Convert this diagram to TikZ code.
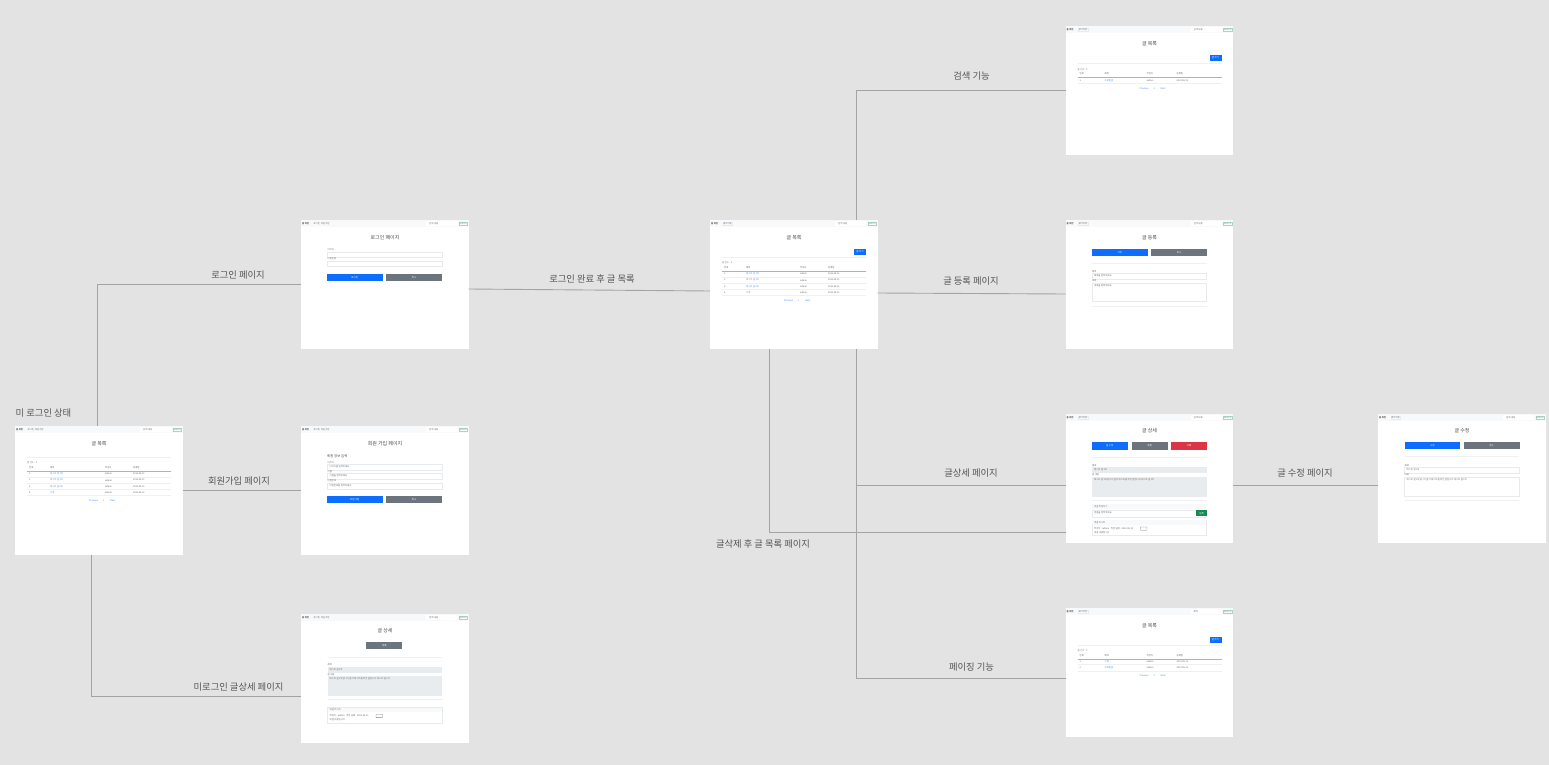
\documentclass[tikz,border=0pt]{standalone}
\usepackage{fontspec}
\setmainfont{Noto Sans CJK KR}
\definecolor{canvasbg}{HTML}{E3E3E3}
\definecolor{linkgray}{HTML}{A4A4A4}
\definecolor{labelgray}{HTML}{555555}
\definecolor{navbg}{HTML}{F8F9FA}
\definecolor{btnblue}{HTML}{0D6EFD}
\definecolor{btngray}{HTML}{6C757D}
\definecolor{btnred}{HTML}{DC3545}
\definecolor{btngreen}{HTML}{198754}
\definecolor{readbg}{HTML}{E9ECEF}
\definecolor{edgegray}{HTML}{E8EBEE}
\tikzset{
	webpage/.style={fill=white, minimum width=167.5pt, minimum height=129pt, inner sep=0pt, outer sep=0pt, anchor=north west},
	link/.style={draw=linkgray, line width=0.9pt},
	flowlabel/.style={font=\fontsize{9.3}{11}\selectfont, text=labelgray, inner sep=0pt},
	mini/.style={font=\fontsize{2.3}{3}\selectfont, text=black!60, inner sep=0pt, anchor=west},
	minilink/.style={mini, text=btnblue!75},
	btntext/.style={font=\fontsize{2.4}{3}\selectfont, text=white, inner sep=0pt},
	headtext/.style={font=\fontsize{5}{6}\selectfont, text=black!70, inner sep=0pt},
	navtext/.style={mini},
	navbox/.style={mini, draw=edgegray, line width=0.25pt, inner xsep=0.7pt, inner ysep=0.6pt},
	inputbox/.style={draw=edgegray, fill=white, line width=0.25pt},
	readbox/.style={fill=readbg},
	seprule/.style={draw=black!6, line width=0.3pt},
}
\newcommand{\webpagebox}[4]{
	\node[webpage] (#1) at (#2,#3) {};
	\begin{scope}[shift={(#1.north west)}]
		\def\pg{#1}
		#4
	\end{scope}
}
\newcommand{\lbl}[5][mini]{\node[#1] (\pg-#2) at ({#3},{#4}) {#5};}
\newcommand{\navbar}[3]{
	\fill[navbg] (0,0) rectangle (167.5,6.8);
	\lbl{home}{1}{3.4}{\textbf{홈 화면}}
	\lbl[#1]{menu}{12.5}{3.4}{#2}
	\draw[inputbox, draw=none] (125,1) rectangle (156,6);
	\lbl{find}{128}{3.4}{#3}
	\lbl[navbox, text=btngreen!60, draw=btngreen!35]{go}{157.5}{3.4}{Search}
}
\newcommand{\pagetitle}[2][17.5]{\node[headtext] (\pg-title) at (84,#1) {#2};}
\newcommand{\pagebtn}[7]{
	\fill[#6] (#2,#4) rectangle node[btntext] (\pg-#1) {#7} (#3,#5);
}
\newcommand{\formbox}[5]{
	\path[#1] (26.5,#3) rectangle (141,#4);
	\lbl{#2}{28.5}{#3+2.8}{#5}
}
\newcommand{\sepline}[3]{\draw[seprule] (#1,#3) -- (#2,#3);}
\newcommand{\newpostbtn}{\pagebtn{new}{144}{156}{29}{34.7}{btnblue}{글 쓰기}}
\newcommand{\boardtable}[6]{
	\sepline{12}{156}{#1-10.5}
	\lbl{total}{12}{#1-4.7}{총 건수 : 1}
	\lbl{no}{14}{#1}{번호}
	\lbl{subj}{#2}{#1}{제목}
	\lbl{author}{#3}{#1}{작성자}
	\lbl{date}{#4}{#1}{등록일}
	\draw[draw=black!30, line width=0.35pt] (12,#1+3.5) -- (156,#1+3.5);
	\foreach \subj [count=\i] in {#6} {
		\lbl{no\i}{14}{#1+6.2*\i}{\i}
		\lbl[minilink]{subj\i}{#2}{#1+6.2*\i}{\subj}
		\lbl{author\i}{#3}{#1+6.2*\i}{admin}
		\lbl{date\i}{#4}{#1+6.2*\i}{2022.08.11}
		\draw[seprule] (12,#1+6.2*\i+3) -- (156,#1+6.2*\i+3);
	}
	\lbl[minilink]{prev}{74}{#5}{Previous}
	\lbl[minilink]{one}{88}{#5}{1}
	\lbl[minilink]{next}{95}{#5}{Next}
}
\newcommand{\replycard}[1]{
	\draw[inputbox] (26.5,#1) rectangle (141,#1+15.5);
	\fill[navbg] (26.8,#1+0.2) rectangle (140.8,#1+5);
	\lbl{reply}{28.5}{#1+2.6}{댓글 리스트}
	\lbl{replyinfo}{28.5}{#1+8.6}{작성자 : admin \ \ 작성 날짜 : 2022.08.11}
	\draw[draw=black!50, line width=0.3pt, rounded corners=0.4pt] (75,#1+7) rectangle (81.5,#1+10.3);
	\lbl{replytext}{28.5}{#1+12.4}{댓글 내용입니다}
}
\begin{document}
\begin{tikzpicture}[x=1pt, y=-1pt]

	\fill[canvasbg] (0,0) rectangle (1549,765);

	\webpagebox{nolog}{15}{426}{
		\navbar{navtext}{로그인 \ 회원가입}{검색 내용}
		\pagetitle{글 목록}
		\boardtable{41.7}{35}{90}{118}{74.3}{테스트 글 1차,테스트 글 2차,테스트 글 3차,수정}
	}
	\webpagebox{login}{301}{220}{
		\navbar{navtext}{로그인 \ 회원가입}{검색 내용}
		\pagetitle{로그인 페이지}
		\lbl{idlabel}{26.5}{29.7}{아이디}
		\formbox{inputbox}{idbox}{32}{37.3}{}
		\lbl{pwlabel}{26.5}{38.7}{비밀번호}
		\formbox{inputbox}{pwbox}{41}{46.3}{}
		\pagebtn{ok}{26}{81.5}{54.3}{61}{btnblue}{로그인}
		\pagebtn{cancel}{85}{141}{54.3}{61}{btngray}{취소}
	}
	\webpagebox{join}{301}{426}{
		\navbar{navtext}{로그인 \ 회원가입}{검색 내용}
		\pagetitle{회원 가입 페이지}
		\node[headtext, anchor=west, font=\fontsize{3.4}{4}\selectfont] (join-head) at (26,30.3) {회원 정보 입력};
		\lbl{idlabel}{26.5}{36.7}{아이디}
		\formbox{inputbox}{idbox}{38.3}{44.3}{아이디를 입력하세요}
		\lbl{namelabel}{26.5}{45.3}{이름}
		\formbox{inputbox}{namebox}{47.3}{53.3}{이름을 입력하세요}
		\lbl{pwlabel}{26.5}{54.7}{비밀번호}
		\formbox{inputbox}{pwbox}{56.7}{62.7}{비밀번호를 입력하세요}
		\pagebtn{ok}{26}{81.5}{70}{76.7}{btnblue}{회원 가입}
		\pagebtn{cancel}{85}{141}{70}{76.7}{btngray}{취소}
	}
	\webpagebox{guest}{301}{614}{
		\navbar{navtext}{로그인 \ 회원가입}{검색 내용}
		\pagetitle[17]{글 상세}
		\pagebtn{back}{65.3}{101.3}{28}{35.3}{btngray}{목록}
		\sepline{26.5}{141}{42.7}
		\lbl{subjlabel}{26.5}{50.7}{제목}
		\formbox{readbox}{subjbox}{52.7}{58.7}{테스트 글 1차}
		\lbl{bodylabel}{26.5}{60.3}{글 내용}
		\formbox{readbox}{bodybox}{62.3}{82}{테스트 글 1차입니다 글자 테스트를 위한 글입니다 테스트 글 1차}
		\sepline{26.5}{141}{85}
		\replycard{93.3}
	}
	\webpagebox{list}{710}{220}{
		\navbar{navbox}{로그아웃}{검색 내용}
		\pagetitle{글 목록}
		\newpostbtn
		\boardtable{47.7}{36}{90}{118}{81}{테스트 글 1차,테스트 글 2차,테스트 글 3차,수정}
	}
	\webpagebox{search}{1065.5}{26}{
		\navbar{navbox}{로그아웃}{검색 내용}
		\pagetitle{글 목록}
		\newpostbtn
		\boardtable{48}{39}{81}{111}{63}{프로필글}
	}
	\webpagebox{write}{1065.5}{220}{
		\navbar{navbox}{로그아웃}{검색 내용}
		\pagetitle{글 등록}
		\pagebtn{ok}{26.5}{82}{28.7}{35.7}{btnblue}{저장}
		\pagebtn{cancel}{85.5}{141.5}{28.7}{35.7}{btngray}{취소}
		\sepline{26.5}{141}{43.3}
		\lbl{subjlabel}{26.5}{51.7}{제목}
		\formbox{inputbox}{subjbox}{53.3}{59.3}{제목을 입력하세요}
		\lbl{bodylabel}{26.5}{60.7}{내용}
		\formbox{inputbox}{bodybox}{63}{81.3}{내용을 입력하세요}
		\sepline{26.5}{141}{86}
	}
	\webpagebox{detail}{1065.5}{414}{
		\navbar{navbox}{로그아웃}{검색 내용}
		\pagetitle[17]{글 상세}
		\pagebtn{edit}{26.5}{62}{28.3}{35.7}{btnblue}{글 수정}
		\pagebtn{back}{66}{102}{28.3}{35.7}{btngray}{목록}
		\pagebtn{del}{105.5}{141}{28.3}{35.7}{btnred}{삭제}
		\sepline{26.5}{141}{43.3}
		\lbl{subjlabel}{26.5}{51.3}{제목}
		\formbox{readbox}{subjbox}{53.3}{59.3}{테스트 글 1차}
		\lbl{bodylabel}{26.5}{61}{글 내용}
		\formbox{readbox}{bodybox}{63}{82.7}{테스트 글 1차입니다 글자 테스트를 위한 글입니다 테스트 글 1차}
		\sepline{26.5}{141}{86}
		\fill[navbg] (26.5,90.3) rectangle (141,95.3);
		\lbl{writereply}{28.5}{92.8}{댓글 작성하기}
		\formbox{inputbox}{replybox}{96}{102.7}{댓글을 입력하세요}
		\pagebtn{post}{130.5}{141.5}{96}{102.3}{btngreen}{등록}
		\replycard{106}
	}
	\webpagebox{paging}{1065.5}{608}{
		\navbar{navbox}{로그아웃}{제목}
		\pagetitle{글 목록}
		\newpostbtn
		\boardtable{47.3}{39}{81}{111}{68}{수정,프로필글}
	}
	\webpagebox{edit}{1378}{414}{
		\navbar{navbox}{로그아웃}{검색 내용}
		\pagetitle[17]{글 수정}
		\pagebtn{ok}{26.5}{82}{28.3}{35.3}{btnblue}{수정}
		\pagebtn{cancel}{85.5}{141.5}{28.3}{35.3}{btngray}{취소}
		\sepline{26.5}{141}{42}
		\lbl{subjlabel}{26.5}{51.3}{제목}
		\formbox{inputbox}{subjbox}{53.3}{59.3}{테스트 글 1차}
		\lbl{bodylabel}{26.5}{61}{내용}
		\formbox{inputbox}{bodybox}{63.3}{82}{테스트 글 1차입니다 글자 테스트를 위한 글입니다 테스트 글 1차}
		\sepline{26.5}{141}{86}
	}

	\draw[link] ([xshift=-1pt]nolog.north) |- (login.west);
	\draw[link] (nolog.east) -- (join.west);
	\draw[link] ([xshift=-7.5pt]nolog.south) |- ([yshift=-17.5pt]guest.west);
	\draw[link] ([yshift=-4.5pt]login.east) -- ([yshift=-6.5pt]list.west);
	\draw[link] ([xshift=62.5pt]list.north) |- (search.west);
	\draw[link] ([yshift=-8.5pt]list.east) -- ([yshift=-9.5pt]write.west);
	\draw[link] ([xshift=62.5pt]list.south) |- ([yshift=-5.5pt]paging.west);
	\draw[link] ([xshift=62.5pt,yshift=-136pt]list.south) -- ([yshift=-6.5pt]detail.west);
	\draw[link] ([xshift=-24.5pt]list.south) |- ([yshift=-53.5pt]detail.west);
	\draw[link] ([yshift=-6.5pt]detail.east) -- ([yshift=-6.5pt]edit.west);

	\node[flowlabel] (lbNolog) at (43.5,412.8) {미 로그인 상태};
	\node[flowlabel] (lbLogin) at (238,274.8) {로그인 페이지};
	\node[flowlabel] (lbJoin) at (239,480.8) {회원가입 페이지};
	\node[flowlabel] (lbGuest) at (238.5,686.8) {미로그인 글상세 페이지};
	\node[flowlabel] (lbDone) at (592,278.8) {로그인 완료 후 글 목록};
	\node[flowlabel] (lbSearch) at (971.5,75.8) {검색 기능};
	\node[flowlabel] (lbWrite) at (971,280.8) {글 등록 페이지};
	\node[flowlabel] (lbDetail) at (971,472.8) {글상세 페이지};
	\node[flowlabel] (lbDelete) at (763,543.8) {글삭제 후 글 목록 페이지};
	\node[flowlabel] (lbPaging) at (971.5,666.8) {페이징 기능};
	\node[flowlabel] (lbEdit) at (1305,472.8) {글 수정 페이지};

\end{tikzpicture}
\end{document}
